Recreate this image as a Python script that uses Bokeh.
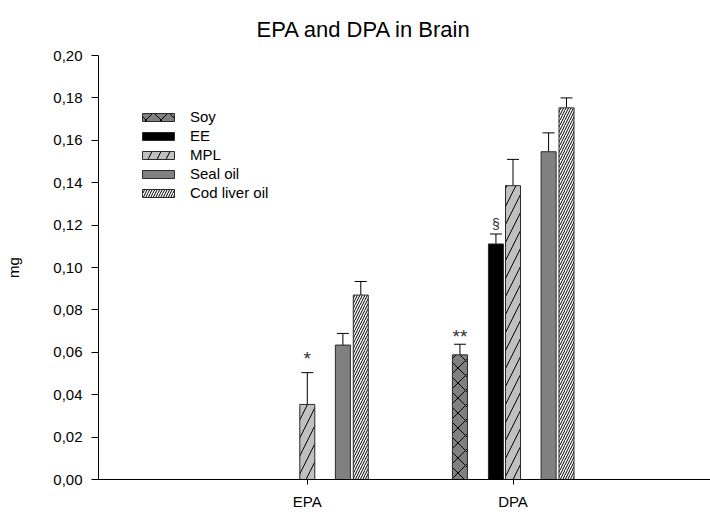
from bokeh.plotting import figure
from bokeh.models import (Range1d, FixedTicker, Whisker, TeeHead, ColumnDataSource,
                          Legend, LegendItem, Title)
from bokeh.embed import file_html
from bokeh.resources import INLINE
from bokeh.core.properties import value

# ---------------- data ----------------
title_text = "EPA and DPA in Brain"
categories = ["EPA", "DPA"]
series_names = ["Soy", "EE", "MPL", "Seal oil", "Cod liver oil"]

soy = [None, 0.0588]
soy_err = [None, 0.0050]
ee = [None, 0.1111]
ee_err = [None, 0.0047]
mpl = [0.0354, 0.1386]
mpl_err = [0.0150, 0.0124]
seal = [0.0634, 0.1546]
seal_err = [0.0055, 0.0089]
cod = [0.0870, 0.1753]
cod_err = [0.0064, 0.0047]

y_ticks = [0.0, 0.02, 0.04, 0.06, 0.08, 0.10, 0.12, 0.14, 0.16, 0.18, 0.20]
y_tick_labels = ["0,00", "0,02", "0,04", "0,06", "0,08", "0,10",
                 "0,12", "0,14", "0,16", "0,18", "0,20"]

# significance marks: (series, category, text)
mark_series = ["MPL", "Soy", "EE"]
mark_category = ["EPA", "DPA", "DPA"]
mark_text = ["*", "**", "§"]

values = {"Soy": (soy, soy_err), "EE": (ee, ee_err), "MPL": (mpl, mpl_err),
          "Seal oil": (seal, seal_err), "Cod liver oil": (cod, cod_err)}

# ---------------- styles / layout ----------------
FONT = "Liberation Sans"
styles = {
    "Soy":           dict(fill="#808080", hatch="x", scale=15, offset=-0.258),
    "EE":            dict(fill="#000000", hatch=None, scale=12, offset=-0.083),
    "MPL":           dict(fill="#c0c0c0", hatch="/", scale=18, offset=0.0),
    "Seal oil":      dict(fill="#808080", hatch=None, scale=12, offset=0.173),
    "Cod liver oil": dict(fill="#ffffff", hatch="/", scale=5, offset=0.260),
}
mark_style = {"*": dict(size="19px", dy=-14), "**": dict(size="19px", dy=-8),
              "§": dict(size="14px", dy=-10)}
BAR_W = 0.073

p = figure(width=710, height=512, output_backend="svg", toolbar_location=None,
           x_range=Range1d(-1.015, 1.96), y_range=Range1d(0, 0.2),
           min_border_left=98, min_border_right=0, min_border_top=55,
           min_border_bottom=31)
p.outline_line_color = None
p.grid.visible = False
p.background_fill_color = "white"

# title, shifted left of the frame centre as in the original
p.add_layout(Title(text=title_text, align="left", offset=158, standoff=27,
                   text_font=FONT, text_font_size="22px", text_font_style="normal",
                   text_color="#000000"), "above")

# axes
p.yaxis.ticker = FixedTicker(ticks=y_ticks)
p.yaxis.major_label_overrides = {t: l for t, l in zip(y_ticks, y_tick_labels)}
p.yaxis.axis_label = "mg"
p.xaxis.ticker = FixedTicker(ticks=list(range(len(categories))))
p.xaxis.major_label_overrides = {i: c for i, c in enumerate(categories)}
for ax in (p.xaxis[0], p.yaxis[0]):
    ax.major_label_text_font = FONT
    ax.major_label_text_font_size = "15px"
    ax.major_label_text_color = "#000000"
    ax.axis_line_color = "#000000"
    ax.major_tick_line_color = "#000000"
    ax.minor_tick_line_color = None
    ax.major_tick_in = 0
    ax.axis_label_text_font = FONT
    ax.axis_label_text_font_size = "15px"
    ax.axis_label_text_font_style = "normal"
    ax.axis_label_text_color = "#000000"
p.yaxis.major_tick_out = 7
p.yaxis.major_label_standoff = 9
p.yaxis.axis_label_standoff = 28
p.xaxis.major_tick_out = 5
p.xaxis.major_label_standoff = 8

items = []
mark_x, mark_y, mark_t, mark_sz, mark_dy = [], [], [], [], []
for name in series_names:
    vals, errs = values[name]
    st = styles[name]
    xs, tops, uppers = [], [], []
    for i, (v, e) in enumerate(zip(vals, errs)):
        if v is None:
            continue
        xs.append(i + st["offset"])
        tops.append(v)
        uppers.append(v + e)
    src = ColumnDataSource(dict(x=xs, top=tops, upper=uppers))
    kw = dict(fill_color=st["fill"], line_color="#2a2a2a", line_width=1)
    if st["hatch"]:
        kw.update(hatch_pattern=st["hatch"], hatch_scale=st["scale"],
                  hatch_color="#000000", hatch_weight=1)
    r = p.vbar(x="x", top="top", bottom=0, width=BAR_W, source=src, **kw)
    items.append(LegendItem(label=name, renderers=[r]))
    w = Whisker(source=src, base="x", lower="top", upper="upper", dimension="height",
                lower_head=None,
                upper_head=TeeHead(size=12, line_color="#000000", line_width=1),
                line_color="#000000", line_width=1)
    p.add_layout(w)
    for s, c, t in zip(mark_series, mark_category, mark_text):
        if s == name:
            i = categories.index(c)
            mark_x.append(i + st["offset"])
            mark_y.append(vals[i] + errs[i])
            mark_t.append(t)
            mark_sz.append(mark_style[t]["size"])
            mark_dy.append(mark_style[t]["dy"])

msrc = ColumnDataSource(dict(x=mark_x, y=mark_y, t=mark_t, sz=mark_sz, dy=mark_dy))
p.text(x="x", y="y", text="t", source=msrc, text_font=value(FONT),
       text_font_size="sz", y_offset="dy", text_align="center",
       text_baseline="alphabetic", text_color="#303030")

legend = Legend(items=items, location=(40, 277), glyph_width=40, glyph_height=10,
                label_text_font=FONT, label_text_font_size="15px",
                label_text_color="#000000", label_standoff=12, label_height=19,
                spacing=0, padding=0, margin=0, border_line_color=None,
                background_fill_alpha=0)
p.add_layout(legend)

open("out.html", "w").write(file_html(p, INLINE))
